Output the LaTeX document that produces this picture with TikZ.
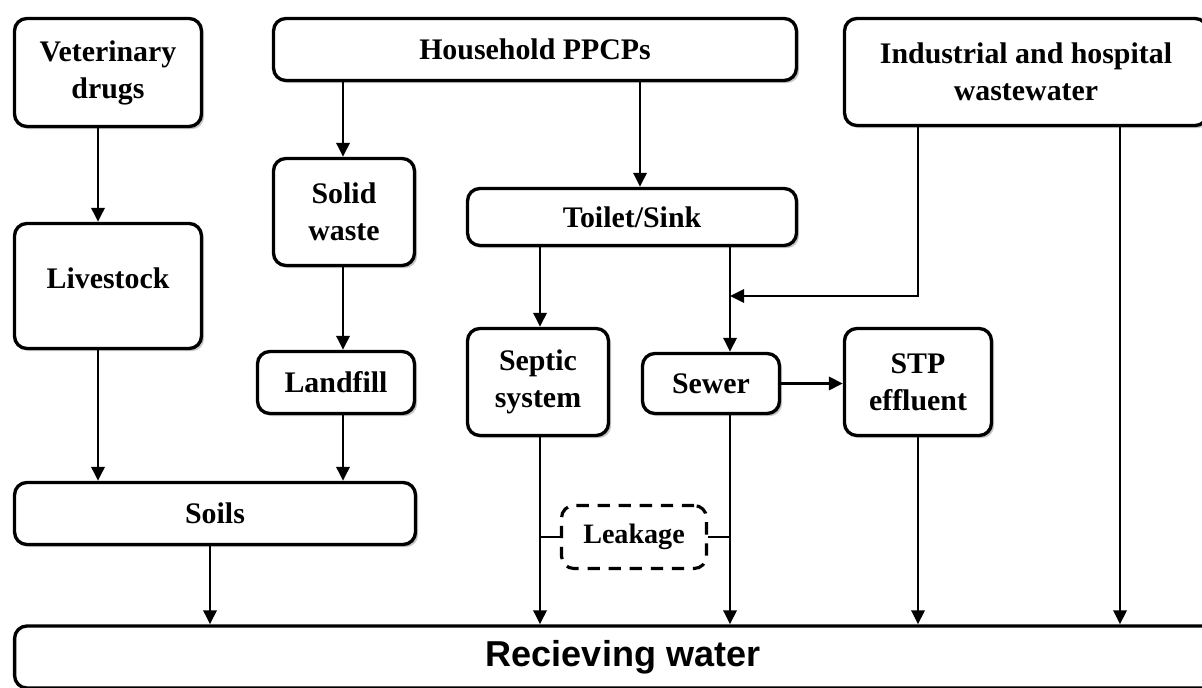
\documentclass[tikz,border=0pt]{standalone}
\usepackage{fontspec}
\setmainfont{Liberation Serif}
\newfontfamily\recvfont{Liberation Sans}
\usetikzlibrary{arrows.meta,shadows,positioning}

\begin{document}
\begin{tikzpicture}[->, >={Triangle[length=8pt,width=7.5pt]}, x=0.02cm, y=-0.02cm, line width=1.6pt,
	main/.style = {draw, line width=1.9pt, rounded corners=7pt, fill=white, align=center, inner sep=0pt,
		font=\fontsize{17}{21}\selectfont\bfseries,
		drop shadow={shadow xshift=1.5pt, shadow yshift=-1.5pt, opacity=0.45}},
	leak/.style = {draw, line width=1.8pt, dash pattern=on 7pt off 5pt, rounded corners=7pt, inner sep=0pt,
		font=\fontsize{16}{20}\selectfont\bfseries}]
			\clip (0,0) rectangle (1202,688);
			\node[main, minimum width=3.74cm, minimum height=2.16cm] (vet) at (108,72.5) {Veterinary\\drugs};
			\node[main, minimum width=10.46cm, minimum height=1.24cm] (house) at (535,49.5) {Household PPCPs};
			\node[main, minimum width=7.26cm, minimum height=2.14cm] (ind) at (1026,72) {Industrial and hospital\\wastewater};
			\node[main, minimum width=2.82cm, minimum height=2.14cm] (solid) at (344,212) {Solid\\waste};
			\node[main, minimum width=6.58cm, minimum height=1.14cm] (toilet) at (632,217) {Toilet/Sink};
			\node[main, minimum width=3.74cm, minimum height=2.5cm, text depth=9pt] (live) at (108,286) {Livestock};
			\node[main, minimum width=3.14cm, minimum height=1.24cm] (landfill) at (336,382.5) {Landfill};
			\node[main, minimum width=2.82cm, minimum height=2.14cm] (septic) at (538,382) {Septic\\system};
			\node[main, minimum width=2.74cm, minimum height=1.2cm] (sewer) at (711,383.5) {Sewer};
			\node[main, minimum width=2.94cm, minimum height=2.14cm] (stp) at (918,382) {STP\\effluent};
			\node[main, minimum width=8.02cm, minimum height=1.24cm] (soils) at (215,513.5) {Soils};
			\node[leak, minimum width=2.9cm, minimum height=1.26cm] (leakage) at (634,537) {Leakage};
			\node[main, minimum width=24.34cm, minimum height=1.24cm, font=\fontsize{20.5}{24}\selectfont\recvfont\bfseries] (recv) at (623,657) {Recieving water};
			% columns of the connectors
			\coordinate (xvet) at (98,0);
			\coordinate (xsoil) at (210,0);
			\coordinate (xland) at (343,0);
			\coordinate (xsep) at (540,0);
			\coordinate (xsink) at (640,0);
			\coordinate (xsew) at (730,0);
			\coordinate (xstp) at (918,0);
			\coordinate (xind) at (1120,0);
			\coordinate (join) at (730,296);
			\draw (vet.south -| xvet) -- (live.north -| xvet);
			\draw (live.south -| xvet) -- (soils.north -| xvet);
			\draw (house.south -| xland) -- (solid.north -| xland);
			\draw (solid.south -| xland) -- (landfill.north -| xland);
			\draw (landfill.south -| xland) -- (soils.north -| xland);
			\draw (house.south -| xsink) -- (toilet.north -| xsink);
			\draw (toilet.south -| xsep) -- (septic.north -| xsep);
			\draw (toilet.south -| xsew) -- (sewer.north -| xsew);
			\draw (ind.south -| xstp) |- (join);
			\draw (sewer.east) -- (stp.west |- sewer.east);
			\draw (ind.south -| xind) -- (recv.north -| xind);
			\draw (soils.south -| xsoil) -- (recv.north -| xsoil);
			\draw (septic.south -| xsep) -- (recv.north -| xsep);
			\draw (sewer.south -| xsew) -- (recv.north -| xsew);
			\draw (stp.south -| xstp) -- (recv.north -| xstp);
			\draw[-] (leakage.west) -- (leakage.west -| xsep);
			\draw[-] (leakage.east) -- (leakage.east -| xsew);
		\end{tikzpicture}
\end{document}
